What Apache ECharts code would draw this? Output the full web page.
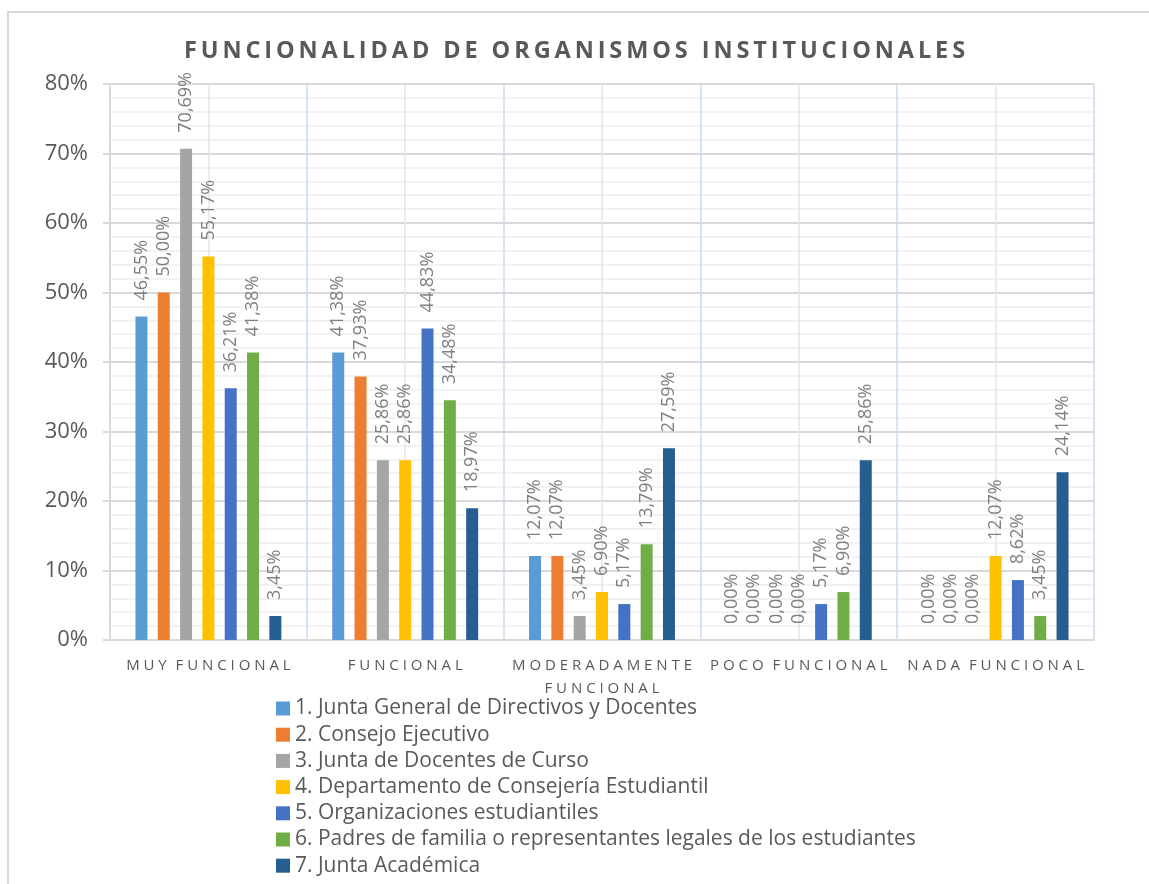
<!DOCTYPE html>
<html>
<head>
<meta charset="utf-8">
<script src="https://cdn.jsdelivr.net/npm/echarts@6/dist/echarts.min.js"></script>
<style>
html,body{margin:0;padding:0;background:#fff;}
#chart{width:1149px;height:884px;}
</style>
</head>
<body>
<div id="chart"></div>
<script>
const titleText = 'FUNCIONALIDAD DE ORGANISMOS INSTITUCIONALES';
const categories = ['MUY FUNCIONAL', 'FUNCIONAL', 'MODERADAMENTE FUNCIONAL', 'POCO FUNCIONAL', 'NADA FUNCIONAL'];
const seriesNames = [
  '1. Junta General de Directivos y Docentes',
  '2. Consejo Ejecutivo',
  '3. Junta de Docentes de Curso',
  '4. Departamento de Consejería Estudiantil',
  '5. Organizaciones estudiantiles',
  '6. Padres de familia o representantes legales de los estudiantes',
  '7. Junta Académica'
];
const juntaGeneral = [46.55, 41.38, 12.07, 0.00, 0.00];
const consejoEjecutivo = [50.00, 37.93, 12.07, 0.00, 0.00];
const juntaDocentes = [70.69, 25.86, 3.45, 0.00, 0.00];
const departamentoConsejeria = [55.17, 25.86, 6.90, 0.00, 12.07];
const organizaciones = [36.21, 44.83, 5.17, 5.17, 8.62];
const padresFamilia = [41.38, 34.48, 13.79, 6.90, 3.45];
const juntaAcademica = [3.45, 18.97, 27.59, 25.86, 24.14];
const seriesValues = [juntaGeneral, consejoEjecutivo, juntaDocentes, departamentoConsejeria, organizaciones, padresFamilia, juntaAcademica];
const colors = ['#5B9BD5', '#ED7D31', '#A5A5A5', '#FFC000', '#4472C4', '#70AD47', '#255E91'];
const yTicks = [0, 10, 20, 30, 40, 50, 60, 70, 80];

function spaced(s, sep, wordSep) {
  return s.split(' ').map(w => w.split('').join(sep)).join(wordSep);
}

const chart = echarts.init(document.getElementById('chart'), null, {renderer: 'canvas'});

const halfCats = [];
categories.forEach(c => { halfCats.push(c + ' a'); halfCats.push(c + ' b'); });

const series = seriesNames.map((name, i) => ({
  name: name,
  type: 'bar',
  xAxisIndex: 0,
  data: seriesValues[i],
  barWidth: 12,
  barGap: '86%',
  itemStyle: {color: colors[i]},
  label: {
    show: true,
    position: 'top',
    rotate: 90,
    align: 'left',
    verticalAlign: 'middle',
    distance: 16,
    color: '#7f7f7f',
    fontFamily: 'Open Sans',
    fontSize: 18,
    formatter: p => p.value.toFixed(2).replace('.', ',') + '%'
  }
}));

chart.setOption({
  animation: false,
  backgroundColor: '#ffffff',
  title: {
    text: spaced(titleText, '\u2009', '\u2009 \u2009'),
    left: 'center',
    top: 39,
    padding: [0, 0, 0, 26],
    textStyle: {fontFamily: 'Open Sans', fontWeight: 'bold', fontSize: 23.5, color: '#595959'}
  },
  graphic: [{
    type: 'rect',
    shape: {x: 8, y: 12, width: 1200, height: 900},
    style: {fill: 'none', stroke: '#d9d9d9', lineWidth: 2},
    silent: true,
    z: -10
  }],
  legend: {
    orient: 'vertical',
    left: 276,
    top: 698,
    padding: 0,
    icon: 'rect',
    itemWidth: 14,
    itemHeight: 14,
    itemGap: 5.2,
    data: seriesNames,
    textStyle: {fontFamily: 'Open Sans', fontSize: 21, color: '#595959', lineHeight: 21}
  },
  grid: {left: 110, right: 55, top: 84, bottom: 244, containLabel: false},
  xAxis: [{
    type: 'category',
    data: categories,
    axisLine: {show: true, lineStyle: {color: '#d9d9d9', width: 2}},
    axisTick: {show: false},
    splitLine: {show: false},
    axisLabel: {
      interval: 0,
      margin: 14,
      fontFamily: 'Open Sans',
      fontSize: 15,
      color: '#595959',
      lineHeight: 23,
      formatter: v => {
        const lines = v.length > 14 ? v.split(' ') : [v];
        return lines.map(l => spaced(l, ' ', '\u2009 \u2009')).join('\n');
      }
    }
  }, {
    type: 'category',
    data: halfCats,
    position: 'top',
    axisLine: {show: false},
    axisTick: {show: false},
    axisLabel: {show: false, interval: 0},
    splitLine: {show: true, interval: 0, lineStyle: {color: ['#c6dbef', '#e6e6e6'], width: 1.5}}
  }],
  yAxis: {
    type: 'value',
    min: yTicks[0],
    max: yTicks[yTicks.length - 1],
    interval: 10,
    axisLine: {show: true, lineStyle: {color: '#d9d9d9', width: 2}},
    axisTick: {show: true, length: 7, lineStyle: {color: '#d9d9d9', width: 2}},
    minorTick: {show: false, splitNumber: 5},
    minorSplitLine: {show: true, lineStyle: {color: '#eeeeee', width: 1.5}},
    splitLine: {show: true, lineStyle: {color: '#d9d9d9', width: 2}},
    axisLabel: {
      margin: 22,
      fontFamily: 'Open Sans',
      fontSize: 22,
      color: '#595959',
      formatter: '{value}%'
    }
  },
  series: series
});
</script>
</body>
</html>
